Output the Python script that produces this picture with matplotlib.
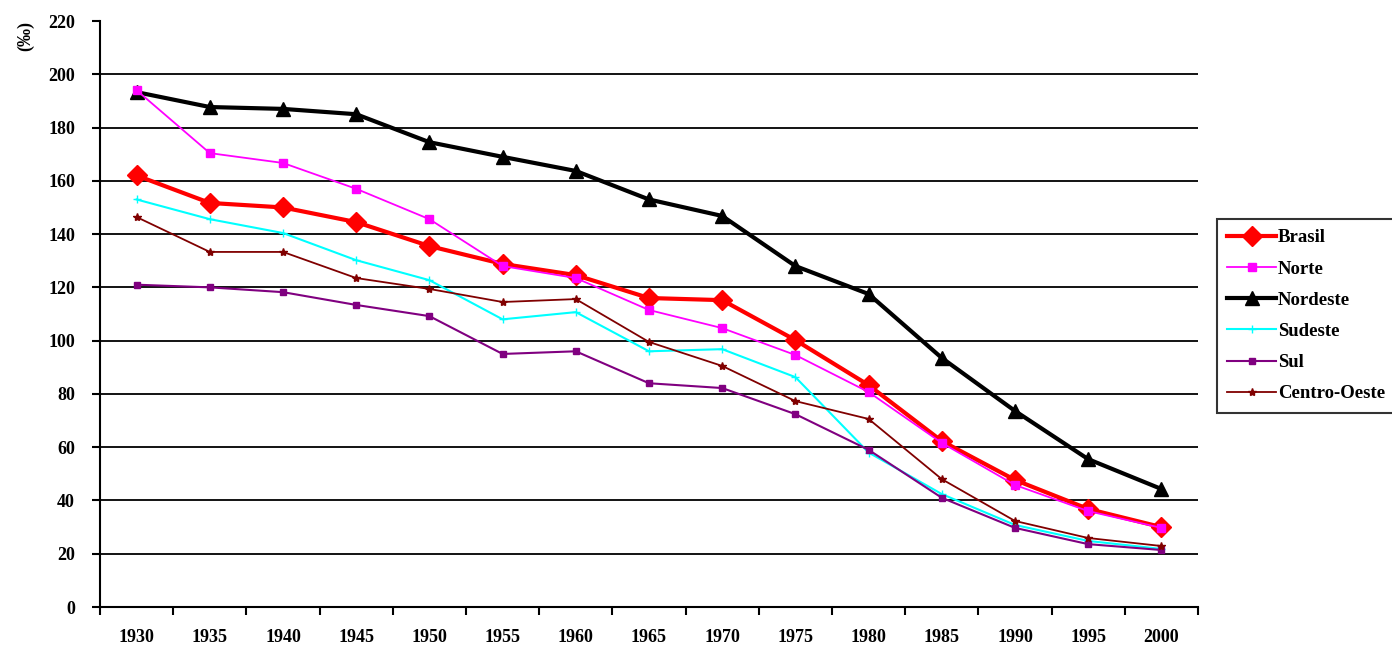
import matplotlib.pyplot as plt
import numpy as np

anos = ['1930', '1935', '1940', '1945', '1950', '1955', '1960', '1965',
        '1970', '1975', '1980', '1985', '1990', '1995', '2000']

brasil = [162, 151.7, 150, 144.5, 135.5, 128.8, 124.6, 116, 115.2, 100.2, 83.3, 62.3, 47.7, 36.8, 30]
norte = [194, 170.4, 166.7, 157, 145.6, 128, 123.5, 111.5, 104.7, 94.6, 80.7, 61.6, 45.8, 36, 29.7]
nordeste = [193.3, 187.7, 187, 185, 174.5, 169, 163.7, 153, 146.8, 128, 117.5, 93.5, 73.6, 55.5, 44.3]
sudeste = [153, 145.6, 140.4, 130.2, 122.7, 108, 110.7, 96, 96.8, 86.3, 58, 42.4, 30.8, 24.8, 21.8]
sul = [121, 120, 118.2, 113.4, 109.2, 95, 96, 84, 82.2, 72.4, 59, 41, 29.7, 23.6, 21.4]
centro_oeste = [146.4, 133.3, 133.3, 123.5, 119.4, 114.5, 115.6, 99.5, 90.5, 77.3, 70.6, 48, 32.3, 25.9, 22.9]

serif = ['Liberation Serif', 'DejaVu Serif']

fig = plt.figure(figsize=(13.92, 6.52), dpi=100)
ax = fig.add_axes([100 / 1392, 1 - 607 / 652, 1098 / 1392, 586 / 652])

x = np.arange(len(anos))
ax.plot(x, brasil, color='#ff0000', lw=3.0, marker='D', ms=10, label='Brasil', zorder=3)
ax.plot(x, norte, color='#ff00ff', lw=1.3, marker='s', ms=6, label='Norte', zorder=4)
ax.plot(x, nordeste, color='black', lw=3.0, marker='^', ms=10, label='Nordeste', zorder=3)
ax.plot(x, sudeste, color='#00ffff', lw=1.5, marker='+', ms=6, label='Sudeste', zorder=3)
ax.plot(x, sul, color='#800080', lw=1.5, marker='s', ms=4, label='Sul', zorder=3)
ax.plot(x, centro_oeste, color='#800000', lw=1.3, marker='*', ms=6, label='Centro-Oeste', zorder=3)

ax.set_xlim(-0.5, len(anos) - 0.5)
ax.set_ylim(0, 220)
ax.set_yticks(np.arange(0, 221, 20))
ax.set_xticks(x)
ax.set_xticklabels(anos)
ax.set_xticks(np.arange(-0.5, len(anos), 1), minor=True)
ax.tick_params(axis='x', which='major', length=0, pad=16)
ax.tick_params(axis='x', which='minor', length=6, width=1.5, direction='out')
ax.tick_params(axis='y', length=6, width=1.5, direction='out', pad=12)

for v in range(20, 220, 20):
    ax.axhline(v, color='black', lw=1.3, zorder=1)

for s in ['top', 'right']:
    ax.spines[s].set_visible(False)
for s in ['left', 'bottom']:
    ax.spines[s].set_linewidth(1.5)

for lab in ax.get_xticklabels() + ax.get_yticklabels():
    lab.set_family(serif)
    lab.set_fontweight('bold')
    lab.set_fontsize(13)

fig.text(26 / 1392, 1 - 36 / 652, '(‰)', rotation=90, ha='center', va='center',
         family=serif, fontsize=13, fontweight='bold')

leg = ax.legend(loc='upper left', bbox_to_anchor=(1217 / 1392, 1 - 219 / 652),
                bbox_transform=fig.transFigure, frameon=True, fancybox=False,
                edgecolor='black', borderpad=0.55, labelspacing=0.75,
                handlelength=2.6, handletextpad=0.1, borderaxespad=0,
                prop={'family': serif, 'weight': 'bold', 'size': 13.5})
leg.get_frame().set_linewidth(1.5)

fig.savefig('out.png', dpi=100)
